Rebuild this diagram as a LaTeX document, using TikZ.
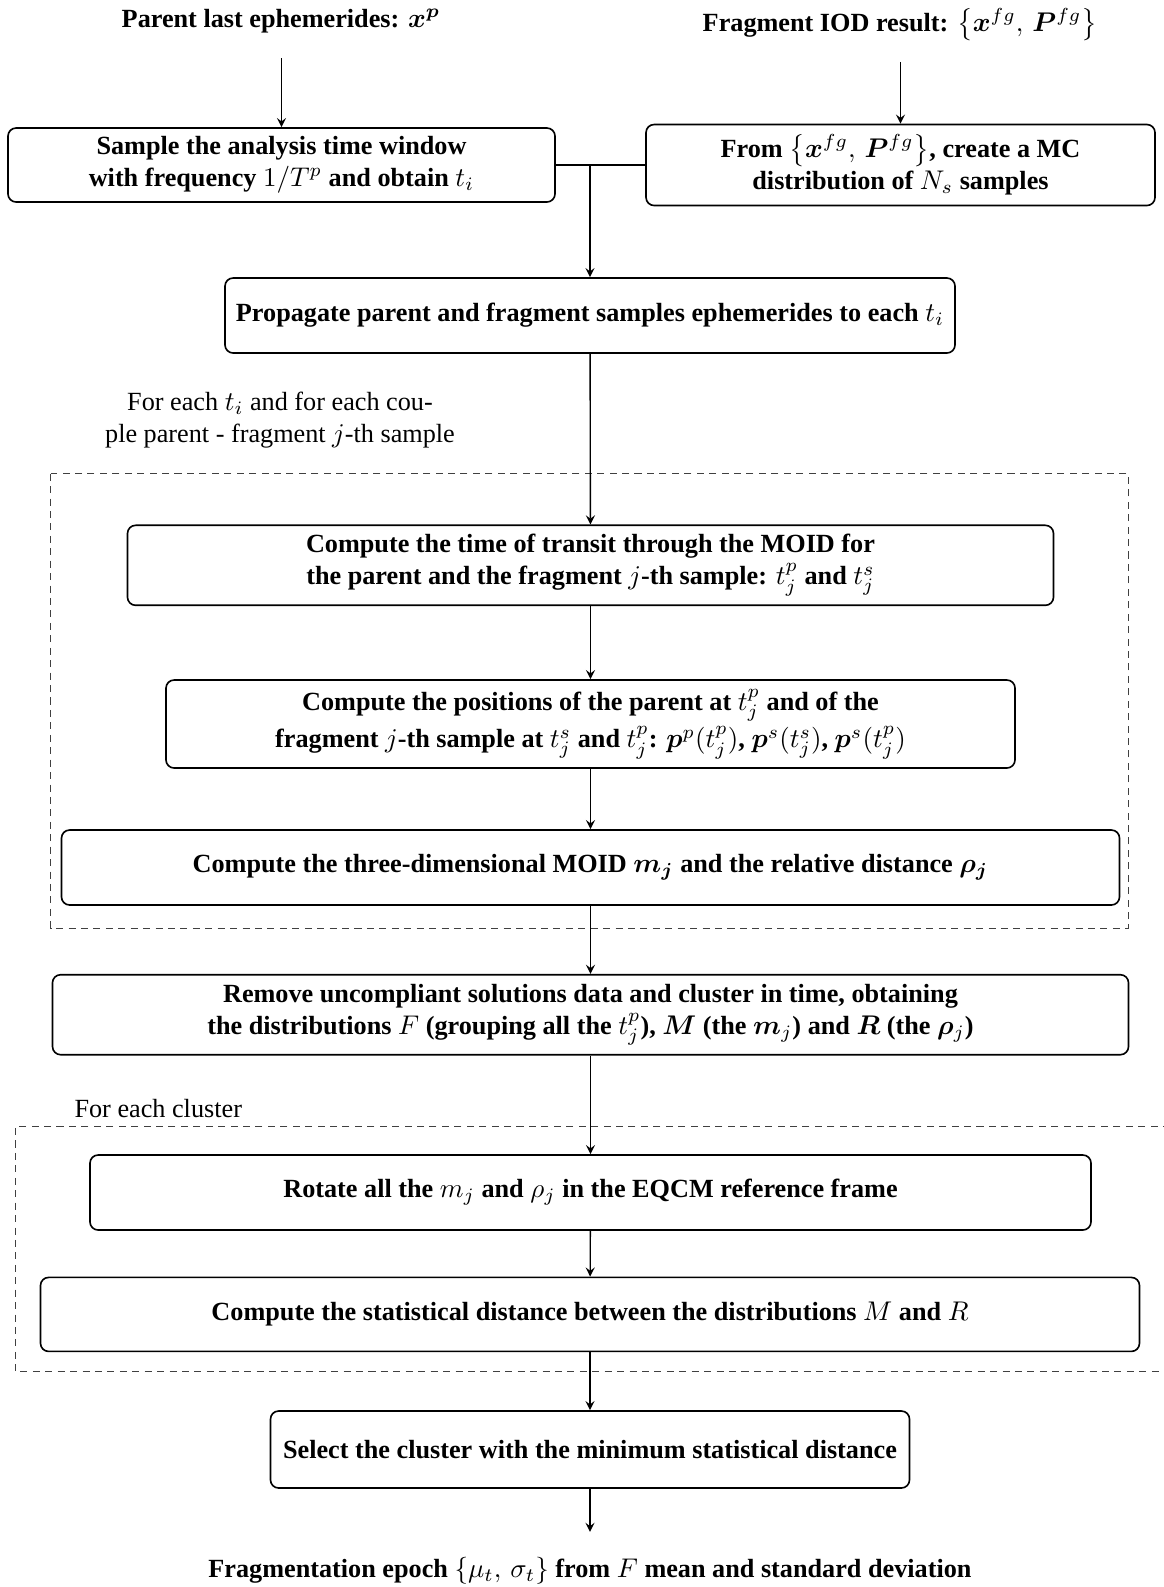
\documentclass[tikz,border=0pt]{standalone}
\usepackage{amsmath}
\usepackage{bm}
\usepackage{fontspec}
\setmainfont{Liberation Serif}
\usetikzlibrary{positioning,calc}

\newcommand{\pxu}{0.37pt}

\tikzset{
    stepbox/.style={draw, rounded corners=3pt, align=center, font=\bfseries,
        inner sep=0pt, line width=0.6pt},
    iolabel/.style={font=\bfseries, inner sep=0pt},
    note/.style={align=center, inner sep=0pt},
    flow/.style={-stealth, line width=0.5pt},
    loopframe/.style={dash pattern=on 2.6pt off 2pt, line width=0.4pt, black!75}
}

\begin{document}
\fontsize{9.7}{11.8}\selectfont
\begin{tikzpicture}[x=\pxu, y=-\pxu]
    \useasboundingbox (0,0) rectangle (1163,1587);

    % inputs
    \node [iolabel] (parent) at (281,21) {Parent last ephemerides: $\bm{x}^{\bm{p}}$};
    \node [iolabel] (iod) at (900,25) {Fragment IOD result: $\left\{\bm{x}^{fg},\, \bm{P}^{fg}\right\}$};

    \node [stepbox, minimum width=547*\pxu, minimum height=74*\pxu] (sample) at (281.5,165)
        {Sample the analysis time window\\ with frequency $1/T^{p}$ and obtain $t_i$};
    \node [stepbox, minimum width=509*\pxu, minimum height=81*\pxu] (mc) at (900.5,165)
        {From $\left\{\bm{x}^{fg},\, \bm{P}^{fg}\right\}$, create a MC\\ distribution of $N_s$ samples};
    \node [stepbox, minimum width=730*\pxu, minimum height=75*\pxu] (prop) at (590,315.5)
        {Propagate parent and fragment samples ephemerides to each $t_i$};

    % first loop
    \node [note] (loopa) at (280,420)
        {For each $t_i$ and for each cou-\\ ple parent - fragment $j$-th sample};
    \node [stepbox, minimum width=926*\pxu, minimum height=80*\pxu] (transit) at (590.5,565.3)
        {Compute the time of transit through the MOID for\\ the parent and the fragment $j$-th sample: $t_j^{p}$ and $t_j^{s}$};
    \node [stepbox, minimum width=849*\pxu, minimum height=88*\pxu] (pos) at (590.5,724)
        {Compute the positions of the parent at $t_j^{p}$ and of the\\[1pt] fragment $j$-th sample at $t_j^{s}$ and $t_j^{p}$: $\bm{p}^{p}(t_j^{p})$, $\bm{p}^{s}(t_j^{s})$, $\bm{p}^{s}(t_j^{p})$};
    \node [stepbox, minimum width=1058*\pxu, minimum height=75*\pxu] (moid) at (590.5,867.5)
        {Compute the three-dimensional MOID $\bm{m_j}$ and the relative distance $\bm{\rho_j}$};
    \draw [loopframe] (50.6,473.7) rectangle (1128.6,928.2);

    \node [stepbox, minimum width=1076*\pxu, minimum height=80*\pxu] (clust) at (590.5,1014.7)
        {Remove uncompliant solutions data and cluster in time, obtaining\\ the distributions $F$ (grouping all the $t_j^{p}$), $\bm{M}$ (the $\bm{m}_j$) and $\bm{R}$ (the $\bm{\rho}_j$)};

    % second loop
    \node [note, anchor=west] (loopb) at (74,1109) {For each cluster};
    \node [stepbox, minimum width=1001*\pxu, minimum height=75*\pxu] (rot) at (590.5,1192.5)
        {Rotate all the $m_j$ and $\rho_j$ in the EQCM reference frame};
    \node [stepbox, minimum width=1099*\pxu, minimum height=74*\pxu] (stat) at (590,1314.4)
        {Compute the statistical distance between the distributions $M$ and $R$};
    \draw [loopframe] (1170,1126.6) -| (15.2,1371.5) -- (1170,1371.5);

    \node [stepbox, minimum width=639*\pxu, minimum height=77*\pxu] (sel) at (590,1449.5)
        {Select the cluster with the minimum statistical distance};
    \node [iolabel] (epoch) at (590,1571)
        {Fragmentation epoch $\{\mu_t,\, \sigma_t\}$ from $F$ mean and standard deviation};

    % connectors
    \draw [flow] ($(parent.south -| sample.north)+(0,25)$) -- (sample.north);
    \draw [flow] ($(iod.south -| mc.north)+(0,20)$) -- (mc.north);
    \draw [line width=1pt] (sample.east) -- (mc.west);
    \draw [flow] (sample.east -| prop.north) -- (prop.north);
    \draw [flow] (prop) -- (transit);
    \draw [flow] (transit) -- (pos);
    \draw [flow] (pos) -- (moid);
    \draw [flow] (moid) -- (clust);
    \draw [flow] (clust) -- (rot);
    \draw [flow] (rot) -- (stat);
    \draw [flow] (stat) -- (sel);
    \draw [flow] (sel) -- ($(epoch.north)+(0,-25)$);
\end{tikzpicture}
\end{document}
